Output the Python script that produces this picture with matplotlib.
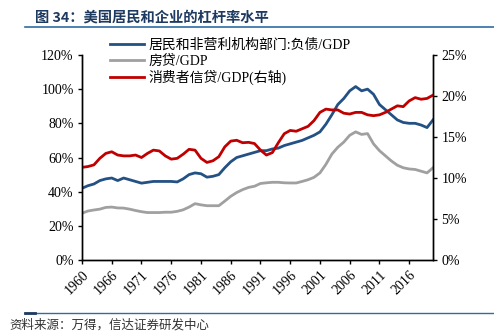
import matplotlib
matplotlib.use("Agg")
import matplotlib.pyplot as plt
from matplotlib.lines import Line2D
from matplotlib.ticker import FuncFormatter

plt.rcParams['font.family'] = ['Liberation Serif', 'Noto Sans CJK SC', 'DejaVu Sans']

# annual data, 1961-2020
years = list(range(1961, 2021))
household_debt = [
    42, 43.5, 44.5, 46.5, 47.5, 48, 46.5, 48, 47, 46,
    45, 45.5, 46, 46, 46, 46, 45.7, 47.5, 50, 51,
    50.5, 48.5, 49, 50, 54, 57.5, 60, 61, 62, 63,
    64, 64, 65, 65.5, 67, 68, 69, 70, 71.5, 73,
    75, 79.5, 85, 91, 94.5, 99, 101.5, 99, 100, 97,
    91, 88, 85, 82, 80.5, 80, 80, 79, 77.5, 82,
]
mortgage = [
    27.4, 28.7, 29.3, 29.8, 30.8, 31, 30.5, 30.4, 29.8, 29,
    28.3, 27.8, 27.8, 27.8, 28, 28, 28.5, 29.4, 31, 33,
    32.3, 31.8, 31.8, 31.8, 34.5, 37.3, 39.5, 41.2, 42.5, 43.2,
    44.8, 45.2, 45.5, 45.5, 45.2, 45.1, 45.1, 46, 47, 48.4,
    51, 56, 62, 66, 69, 73, 75, 73.5, 74, 68,
    64, 61, 58, 55.5, 54, 53.3, 53, 52, 51, 54,
]
consumer_credit = [
    11.3, 11.4, 11.6, 12.4, 13.0, 13.2, 12.8, 12.7, 12.7, 12.8,
    12.5, 13.0, 13.4, 13.3, 12.7, 12.3, 12.4, 12.9, 13.5, 13.4,
    12.4, 11.9, 12.1, 12.6, 13.8, 14.5, 14.6, 14.3, 14.35, 14.2,
    13.4, 12.8, 13.1, 14.3, 15.4, 15.8, 15.7, 16.0, 16.3, 17.0,
    18.0, 18.4, 18.3, 18.3, 17.9, 17.8, 18.0, 18.0, 17.7, 17.6,
    17.7, 18.0, 18.4, 18.8, 18.7, 19.4, 19.8, 19.6, 19.7, 20.1,
]
xtick_years = list(range(1961, 2017, 5))
xtick_labels = ['1960', '1966', '1971', '1976', '1981', '1986',
                '1991', '1996', '2001', '2006', '2011', '2016']
labels = ['居民和非营利机构部门:负债/GDP', '房贷/GDP', '消费者信贷/GDP(右轴)']

BLUE = '#235183'
GRAY = '#a0a0a0'
RED = '#c00000'

fig = plt.figure(figsize=(4.94, 3.33), dpi=100)
ax = fig.add_axes([0.166, 0.219, 0.7105, 0.616])
ax2 = ax.twinx()

ax.plot(years, household_debt, color=BLUE, lw=2.0)
ax.plot(years, mortgage, color=GRAY, lw=2.0)
ax2.plot(years, consumer_credit, color=RED, lw=2.0)

ax.set_xlim(1961, 2020)
ax.set_ylim(0, 120)
ax2.set_ylim(0, 25)
ax.set_yticks(range(0, 121, 20))
ax2.set_yticks(range(0, 26, 5))
pct = FuncFormatter(lambda v, p: f'{v:.0f}%')
ax.yaxis.set_major_formatter(pct)
ax2.yaxis.set_major_formatter(pct)
ax.set_xticks(xtick_years)
ax.set_xticklabels(xtick_labels, rotation=45, ha='right',
                   rotation_mode='anchor')

for a in (ax, ax2):
    a.spines['top'].set_visible(False)
    for s in ('left', 'right', 'bottom'):
        a.spines[s].set_linewidth(1.0)
    a.tick_params(labelsize=10, length=3, width=1.0, pad=3)

handles = [Line2D([], [], color=c, lw=2.0) for c in (BLUE, GRAY, RED)]
fig.legend(handles, labels, loc='upper left',
           bbox_to_anchor=(0.212, 0.9), frameon=False, fontsize=10,
           handlelength=2.4, handletextpad=0.35, labelspacing=0.15,
           borderaxespad=0)

# header and footer decorations
fig.text(0.07, 0.948, '图 34：美国居民和企业的杠杆率水平',
         family=['Noto Sans CJK SC'], fontweight='bold', fontsize=10.3,
         color='#1f3a60', va='center')
fig.add_artist(Line2D([0.05, 1.0], [0.918, 0.918], color='#2e6da4', lw=1.2))
fig.add_artist(Line2D([0.05, 1.0], [0.06, 0.06], color='#2e6da4', lw=1.0))
fig.add_artist(Line2D([0.05, 0.07], [0.06, 0.06], color='#1f3a60', lw=2.0))
fig.text(0.02, 0.022, '资料来源：万得，信达证券研发中心', fontsize=9,
         style='italic', color='#333333', va='center')

fig.savefig('out.png', dpi=100)
